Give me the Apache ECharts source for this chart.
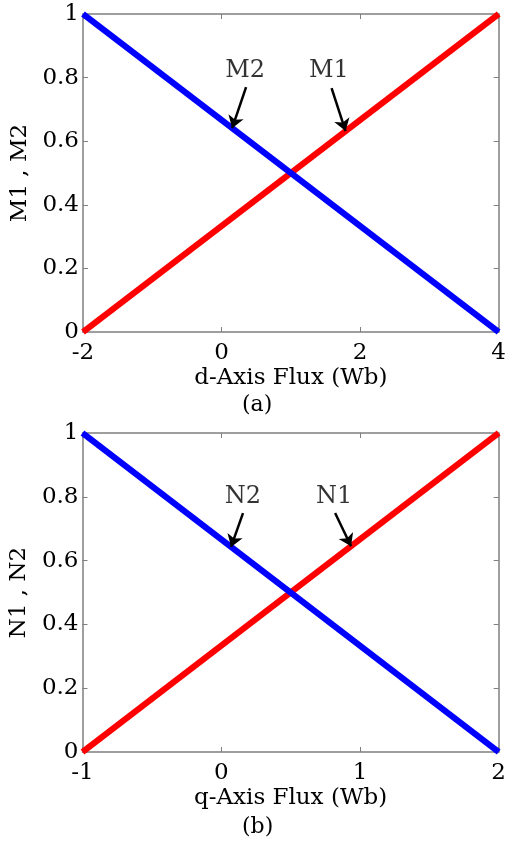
<!DOCTYPE html>
<html>
<head>
<meta charset="utf-8">
<script src="https://cdn.jsdelivr.net/npm/echarts@6/dist/echarts.min.js"></script>
<style>
  html, body { margin: 0; padding: 0; background: #fff; }
  #chart { width: 509px; height: 841px; }
</style>
</head>
<body>
<div id="chart"></div>
<script>
  // (a) d-axis membership
  const dFlux = [-2, 4];
  const m1 = [0, 1];
  const m2 = [1, 0];
  const dTicks = [-2, 0, 2, 4];
  const dNames = ['M2', 'M1'];
  const dNamePos = [[0.34, 0.82], [1.55, 0.82]];
  const dArrowFrom = [[0.354, 0.77], [1.588, 0.767]];
  const dArrowTo = [[0.153, 0.641], [1.79, 0.632]];

  // (b) q-axis membership
  const qFlux = [-1, 2];
  const n1 = [0, 1];
  const n2 = [1, 0];
  const qTicks = [-1, 0, 1, 2];
  const qNames = ['N2', 'N1'];
  const qNamePos = [[0.157, 0.80], [0.814, 0.80]];
  const qArrowFrom = [[0.157, 0.749], [0.821, 0.749]];
  const qArrowTo = [[0.071, 0.643], [0.936, 0.645]];

  const font = 'DejaVu Serif';
  const axisGray = '#7f7f7f';
  const txt = '#000';

  const chart = echarts.init(document.getElementById('chart'));

  function xAxes(gi, ticks, name) {
    const base = {
      gridIndex: gi,
      type: 'value',
      min: ticks[0],
      max: ticks[ticks.length - 1],
      interval: ticks[1] - ticks[0],
      splitLine: { show: false },
      axisLine: { onZero: false, lineStyle: { color: axisGray, width: 1.5 } },
      axisTick: { inside: true, length: 5, lineStyle: { color: axisGray } },
    };
    return [
      Object.assign({}, base, {
        position: 'bottom',
        name: name,
        nameLocation: 'middle',
        nameGap: 35,
        nameTextStyle: { fontFamily: font, fontSize: 23, color: txt },
        axisLabel: { fontFamily: font, fontSize: 23, color: txt, margin: 10 },
      }),
      Object.assign({}, base, { position: 'top', axisLabel: { show: false } }),
    ];
  }

  function yAxes(gi, name) {
    const base = {
      gridIndex: gi,
      type: 'value',
      min: 0,
      max: 1,
      interval: 0.2,
      splitLine: { show: false },
      axisLine: { onZero: false, lineStyle: { color: axisGray, width: 1.5 } },
      axisTick: { inside: true, length: 5, lineStyle: { color: axisGray } },
    };
    return [
      Object.assign({}, base, {
        position: 'left',
        name: name,
        nameLocation: 'middle',
        nameGap: 43,
        nameTextStyle: { fontFamily: font, fontSize: 23, color: txt },
        axisLabel: { fontFamily: font, fontSize: 23, color: txt, margin: 4 },
      }),
      Object.assign({}, base, { position: 'right', axisLabel: { show: false } }),
    ];
  }

  function lineSeries(xi, yi, xs, ys, color) {
    return {
      type: 'line',
      xAxisIndex: xi,
      yAxisIndex: yi,
      data: xs.map((x, i) => [x, ys[i]]),
      symbol: 'none',
      clip: false,
      lineStyle: { color: color, width: 6 },
      z: 3,
    };
  }

  function arrowSeries(xi, yi, from, to) {
    return {
      type: 'lines',
      coordinateSystem: 'cartesian2d',
      xAxisIndex: xi,
      yAxisIndex: yi,
      symbol: ['none', 'arrow'],
      symbolSize: [7, 12],
      lineStyle: { color: '#000', width: 2.5, opacity: 1 },
      data: from.map((p, i) => ({ coords: [p, to[i]] })),
      z: 4,
    };
  }

  function nameSeries(xi, yi, names, pos) {
    return {
      type: 'scatter',
      xAxisIndex: xi,
      yAxisIndex: yi,
      symbolSize: 0,
      data: names.map((n, i) => ({ name: n, value: pos[i] })),
      label: {
        show: true,
        position: 'inside',
        formatter: '{b}',
        fontFamily: font,
        fontSize: 24,
        color: txt,
      },
      z: 5,
    };
  }

  const option = {
    animation: false,
    backgroundColor: '#fff',
    grid: [
      { left: 83, top: 14, width: 418, height: 318 },
      { left: 81, top: 433, width: 420, height: 319 },
    ],
    xAxis: [].concat(xAxes(0, dTicks, 'd-Axis Flux (Wb)'), xAxes(1, qTicks, 'q-Axis Flux (Wb)')),
    yAxis: [].concat(yAxes(0, 'M1 , M2'), yAxes(1, 'N1 , N2')),
    graphic: [
      { type: 'text', left: 242, top: 394, style: { text: '(a)', fontFamily: font, fontSize: 22, fill: txt } },
      { type: 'text', left: 242, top: 816, style: { text: '(b)', fontFamily: font, fontSize: 22, fill: txt } },
    ],
    series: [
      lineSeries(0, 0, dFlux, m1, '#ff0000'),
      lineSeries(0, 0, dFlux, m2, '#0000ff'),
      arrowSeries(0, 0, dArrowFrom, dArrowTo),
      nameSeries(0, 0, dNames, dNamePos),
      lineSeries(2, 2, qFlux, n1, '#ff0000'),
      lineSeries(2, 2, qFlux, n2, '#0000ff'),
      arrowSeries(2, 2, qArrowFrom, qArrowTo),
      nameSeries(2, 2, qNames, qNamePos),
    ],
  };

  chart.setOption(option);
</script>
</body>
</html>
